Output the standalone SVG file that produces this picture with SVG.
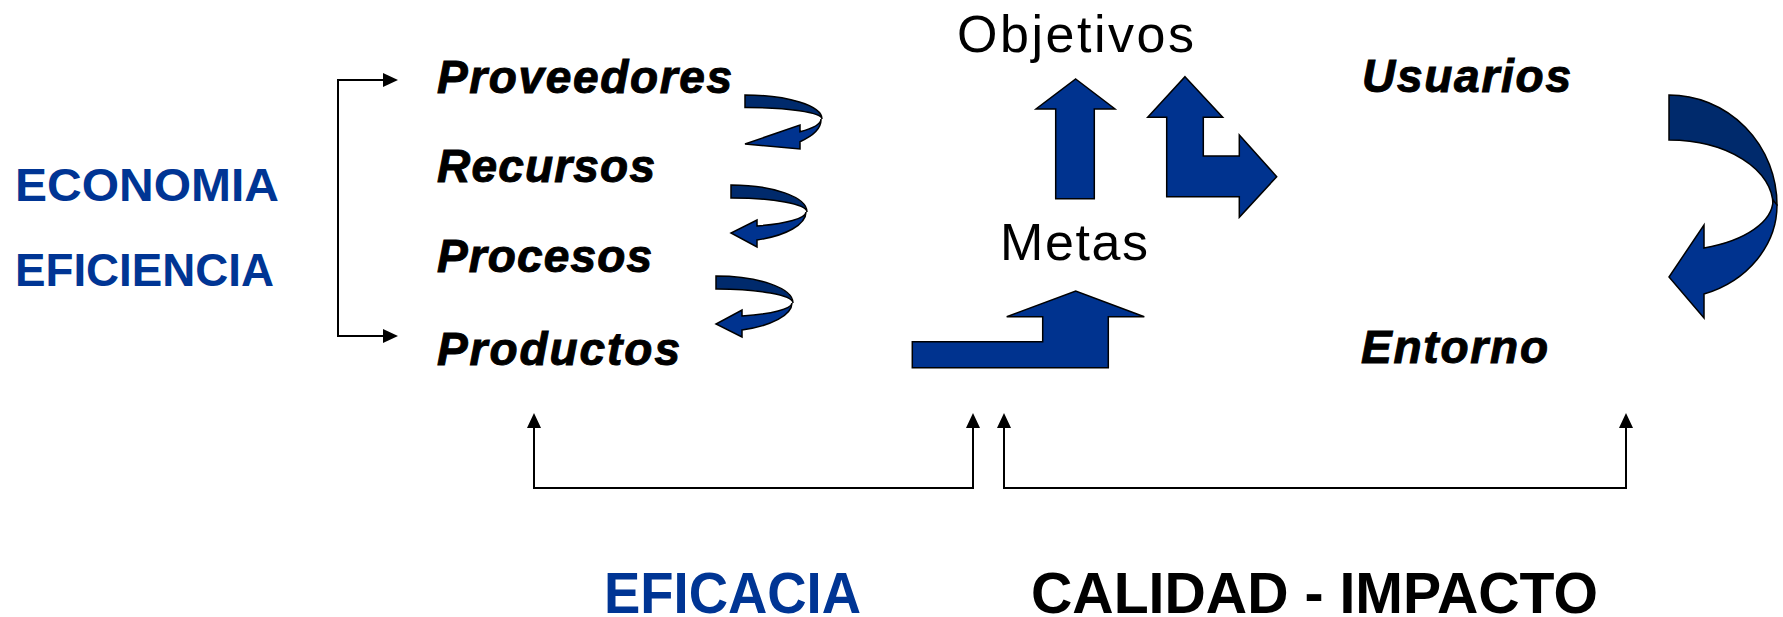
<svg xmlns="http://www.w3.org/2000/svg" width="1783" height="617" viewBox="0 0 1783 617">
<style>
.lbl{font-family:"Liberation Sans",Arial,sans-serif;font-weight:bold;font-style:italic;font-size:46px;fill:#000;stroke:#000;stroke-width:1}
.reg{font-family:"Liberation Sans",Arial,sans-serif;font-size:52px;fill:#000}
.blue{font-family:"Liberation Sans",Arial,sans-serif;font-weight:bold;font-size:47px;fill:#003594}
.big{font-family:"Liberation Sans",Arial,sans-serif;font-weight:bold;font-size:58px}
.front{fill:#00338F;stroke:#000;stroke-width:1.5;stroke-linejoin:miter}
.back{fill:#002A6C;stroke:#000;stroke-width:1.5}
.conn{fill:none;stroke:#000;stroke-width:2}
</style>
<defs>
<marker id="ah" viewBox="0 0 15 14" refX="0" refY="7" markerWidth="15" markerHeight="14" markerUnits="userSpaceOnUse" orient="auto-start-reverse">
<path d="M0,0 L15,7 L0,14 Z" fill="#000"/>
</marker>
</defs>
<rect width="1783" height="617" fill="#fff"/>

<g id="economia"><text class="blue" x="15" y="201" textLength="264" lengthAdjust="spacingAndGlyphs">ECONOMIA</text></g>
<g id="eficiencia"><text class="blue" x="15" y="286" textLength="259" lengthAdjust="spacingAndGlyphs">EFICIENCIA</text></g>

<g id="proveedores"><text class="lbl" x="437" y="93" textLength="295" lengthAdjust="spacing">Proveedores</text></g>
<g id="recursos"><text class="lbl" x="437" y="182" textLength="218" lengthAdjust="spacing">Recursos</text></g>
<g id="procesos"><text class="lbl" x="437" y="272" textLength="215" lengthAdjust="spacing">Procesos</text></g>
<g id="productos"><text class="lbl" x="437" y="365" textLength="243" lengthAdjust="spacing">Productos</text></g>

<g id="objetivos"><text class="reg" x="957" y="52" textLength="237" lengthAdjust="spacing">Objetivos</text></g>
<g id="metas"><text class="reg" x="1000" y="260" textLength="148" lengthAdjust="spacing">Metas</text></g>

<g id="usuarios"><text class="lbl" x="1362" y="92" textLength="209" lengthAdjust="spacing">Usuarios</text></g>
<g id="entorno"><text class="lbl" x="1361" y="363" textLength="187" lengthAdjust="spacing">Entorno</text></g>

<g id="eficacia"><text class="big" x="604" y="613" fill="#003594" textLength="257" lengthAdjust="spacingAndGlyphs">EFICACIA</text></g>
<g id="calidad-impacto"><text class="big" x="1031" y="613" fill="#000" textLength="567" lengthAdjust="spacingAndGlyphs">CALIDAD - IMPACTO</text></g>

<g id="curl1">
<path class="back" d="M745,95 A77,24 0 0 1 822,119 A76,11.5 0 0 0 745,107.5 Z"/>
<path class="front" d="M800,131.7 A76,18.4 0 0 0 821,119 A77,32 0 0 1 800,141.7 L800,149 L745,144 L800,125 Z"/>
</g>
<g id="curl2">
<path class="back" d="M731,185 A76,27 0 0 1 807,212 A75,14 0 0 0 731,198 Z"/>
<path class="front" d="M757,226 A75,15 0 0 0 806,212 A76,30 0 0 1 757,240 L757,247 L731,233 L757,220 Z"/>
</g>
<g id="curl3">
<path class="back" d="M716,276 A77,27 0 0 1 793,303 A76,14 0 0 0 716,289 Z"/>
<path class="front" d="M742,316 A76,14 0 0 0 792,303 A77,29 0 0 1 742,330 L742,337 L716,324 L742,310 Z"/>
</g>

<g id="arrow-metas-objetivos">
<path class="front" d="M1075.7,79 L1115,109 L1094.3,109 L1094.3,198.7 L1055.7,198.7 L1055.7,109 L1036,109 Z"/>
</g>
<g id="arrow-bent-up-right">
<path class="front" d="M1185,76.7 L1222.7,117.3 L1203.3,117.3 L1203.3,156 L1239.3,156 L1239.3,135 L1276.7,176.7 L1239.3,217.3 L1239.3,196.7 L1166.7,196.7 L1166.7,117.3 L1147.7,117.3 Z"/>
</g>
<g id="arrow-to-metas">
<path class="front" d="M912.3,341.7 L1042.7,341.7 L1042.7,316.7 L1006.7,316.7 L1075.7,291 L1144.3,316.7 L1108.3,316.7 L1108.3,367.7 L912.3,367.7 Z"/>
</g>
<g id="arrow-usuarios-entorno">
<path class="back" d="M1669,95 A108,110 0 0 1 1777,205 L1773,205 A104,65 0 0 0 1669,140 Z"/>
<path class="front" d="M1704,248 A104,51 0 0 0 1773,200 L1777,205 A108,94 0 0 1 1704,294 L1704,318 L1669,277 L1704,225 Z"/>
</g>

<g id="connectors">
<path class="conn" d="M383,80 L338,80 L338,336 L383,336" marker-start="url(#ah)" marker-end="url(#ah)"/>
<path class="conn" d="M534,428 L534,488 L973,488 L973,428" marker-start="url(#ah)" marker-end="url(#ah)"/>
<path class="conn" d="M1004,428 L1004,488 L1626,488 L1626,428" marker-start="url(#ah)" marker-end="url(#ah)"/>
</g>
</svg>
